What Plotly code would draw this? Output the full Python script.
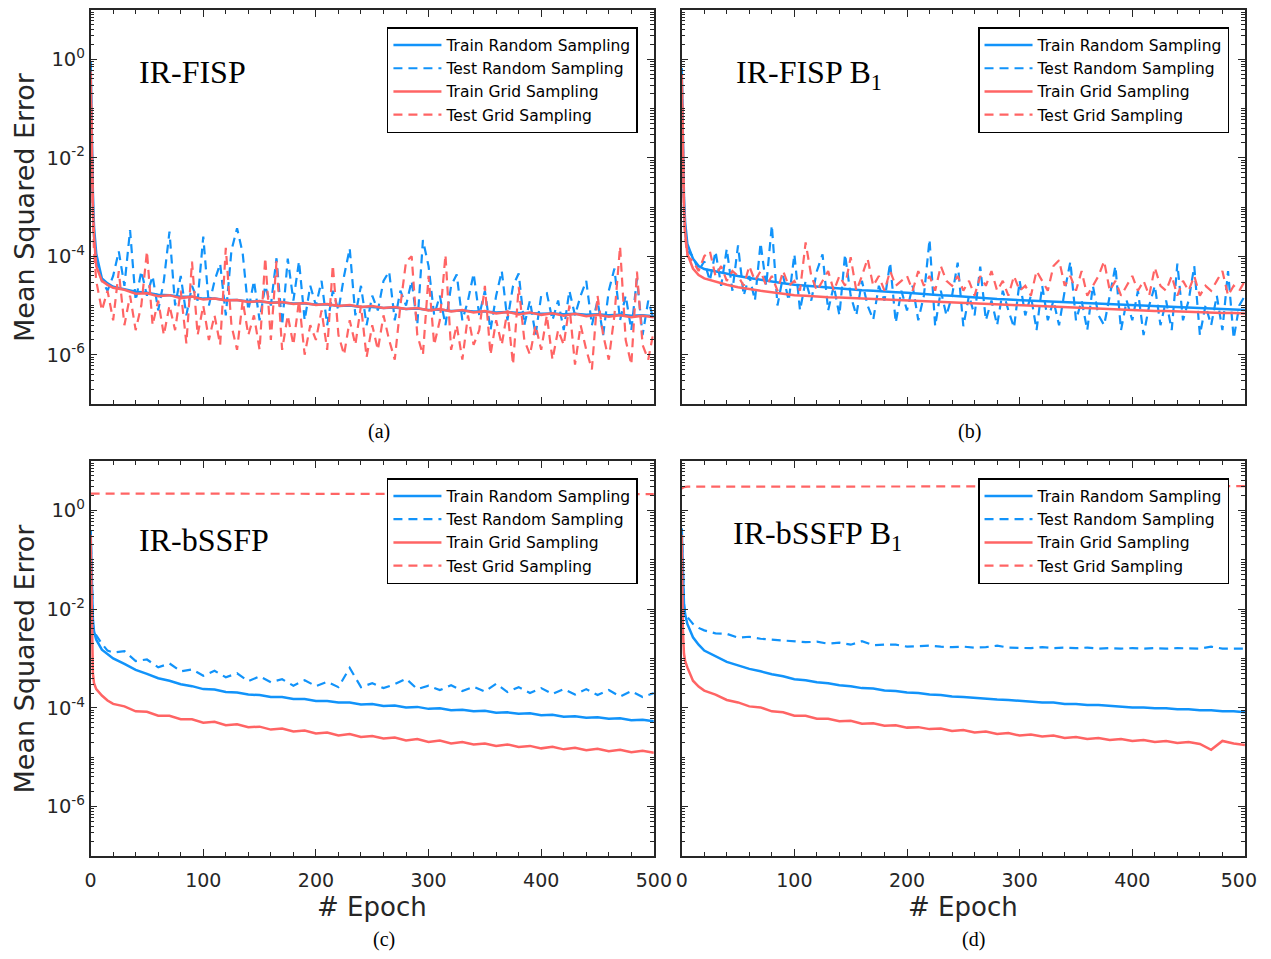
import plotly.graph_objects as go

# ---------------- x grids (epochs) ----------------
EP_F = [0, 1, 2, 3] + list(range(5, 505, 5))                 # 104 points (noisy test curves)
EP_C = [0, 1, 2, 3, 5, 10, 15, 20] + list(range(30, 510, 10))  # 56 points (smooth curves)
EP_FLAT = [0, 1, 2, 5, 10, 20, 50, 100, 150, 200, 250, 300, 350, 400, 450, 500]

SERIES_NAMES = ["Train Random Sampling", "Test Random Sampling",
                "Train Grid Sampling", "Test Grid Sampling"]
PANEL_TITLES = ["IR-FISP", "IR-FISP B<sub>1</sub>", "IR-bSSFP", "IR-bSSFP B<sub>1</sub>"]
PANEL_LABELS = ["(a)", "(b)", "(c)", "(d)"]
X_TICKS = [0, 100, 200, 300, 400, 500]
X_TICK_TEXT = ["0", "100", "200", "300", "400", "500"]
Y_LABELED = [-6, -4, -2, 0]
Y_UNLABELED = [-7, -5, -3, -1, 1]

# ---------------- values, as log10(MSE) ----------------
# (a) IR-FISP
A_TRAIN_RAND = [-0.05, -1.60, -2.70, -3.40, -3.95, -4.45, -4.55, -4.62,
                -4.67, -4.72, -4.74, -4.78, -4.79, -4.82, -4.82, -4.86,
                -4.86, -4.89, -4.89, -4.92, -4.92, -4.94, -4.94, -4.96,
                -4.96, -4.98, -4.98, -5.01, -5.00, -5.03, -5.03, -5.05,
                -5.04, -5.07, -5.06, -5.09, -5.08, -5.11, -5.10, -5.12,
                -5.12, -5.14, -5.13, -5.15, -5.15, -5.17, -5.16, -5.18,
                -5.17, -5.19, -5.18, -5.20, -5.19, -5.21, -5.20, -5.22]
A_TEST_RAND = [-0.10, -1.80, -3.00, -3.60,
               -4.10, -4.50, -4.70, -4.40, -3.90, -4.60, -3.47, -4.90, -4.30, -4.80,
               -4.40, -5.10, -4.50, -3.50, -5.00, -4.40, -5.20, -4.60, -4.90, -3.60,
               -5.00, -4.50, -4.15, -5.20, -3.88, -3.43, -3.94, -5.10, -4.50, -5.30,
               -4.60, -5.00, -4.04, -5.40, -4.05, -4.90, -4.10, -5.30, -4.60, -5.00,
               -4.50, -5.40, -4.70, -5.10, -4.40, -3.84, -5.20, -4.60, -5.40, -4.80,
               -5.10, -4.50, -4.31, -5.30, -4.70, -5.00, -4.50, -5.40, -3.67, -4.20,
               -5.20, -4.80, -5.40, -4.60, -4.37, -5.30, -4.90, -4.35, -5.20, -4.70,
               -5.50, -4.80, -4.30, -5.30, -4.60, -4.35, -5.40, -4.90, -5.60, -4.80,
               -4.75, -5.30, -4.90, -5.50, -4.70, -5.20, -4.80, -4.50, -5.40, -4.90,
               -5.60, -4.70, -4.25, -5.30, -4.80, -5.50, -4.45, -5.60, -4.90, -5.30]
A_TRAIN_GRID = [-0.25, -1.90, -3.00, -3.60, -4.20, -4.50, -4.58, -4.64,
                -4.68, -4.76, -4.75, -4.81, -4.79, -4.85, -4.82, -4.88,
                -4.86, -4.90, -4.89, -4.93, -4.91, -4.95, -4.93, -4.97,
                -4.95, -4.99, -4.97, -5.01, -4.99, -5.03, -5.01, -5.05,
                -5.03, -5.07, -5.05, -5.10, -5.07, -5.12, -5.09, -5.14,
                -5.11, -5.16, -5.13, -5.18, -5.14, -5.19, -5.16, -5.21,
                -5.17, -5.22, -5.19, -5.23, -5.20, -5.24, -5.21, -5.24]
A_TEST_GRID = [-0.30, -2.00, -3.20, -3.90,
               -4.50, -5.10, -4.70, -5.30, -4.30, -5.40, -4.80, -5.50, -5.00, -3.90,
               -5.40, -4.90, -5.60, -5.00, -5.50, -4.70, -5.77, -4.11, -5.60, -5.00,
               -5.70, -5.20, -5.80, -3.83, -5.40, -5.90, -4.90, -5.60, -5.20, -5.90,
               -4.03, -5.70, -4.10, -5.90, -5.20, -5.80, -4.90, -6.00, -5.40, -5.70,
               -5.10, -5.90, -4.18, -5.60, -6.00, -5.30, -5.80, -5.00, -6.05, -5.40,
               -5.90, -5.20, -5.70, -6.10, -5.00, -4.11, -4.00, -5.60, -6.00, -4.40,
               -5.80, -5.30, -3.97, -5.90, -5.40, -6.10, -5.20, -5.80, -5.50, -4.60,
               -6.00, -5.30, -5.80, -5.10, -6.20, -4.62, -5.70, -6.00, -5.40, -5.90,
               -5.20, -6.10, -5.50, -5.80, -5.00, -6.20, -5.40, -5.90, -6.30, -4.80,
               -5.60, -6.10, -5.20, -3.80, -5.70, -6.20, -4.31, -5.80, -6.10, -5.50]

# (b) IR-FISP B1
B_TRAIN_RAND = [-0.18, -1.80, -2.80, -3.30, -3.75, -4.05, -4.20, -4.26,
                -4.31, -4.36, -4.40, -4.44, -4.48, -4.51, -4.55, -4.58,
                -4.60, -4.62, -4.64, -4.66, -4.67, -4.69, -4.70, -4.72,
                -4.73, -4.74, -4.76, -4.77, -4.79, -4.80, -4.82, -4.84,
                -4.85, -4.87, -4.88, -4.89, -4.91, -4.92, -4.93, -4.94,
                -4.95, -4.96, -4.97, -4.98, -4.99, -5.00, -5.01, -5.02,
                -5.03, -5.03, -5.04, -5.05, -5.06, -5.07, -5.08, -5.09]
B_TEST_RAND = [-0.20, -1.90, -3.00, -3.50,
               -3.90, -4.00, -4.30, -4.10, -4.50, -3.90, -4.60, -3.85, -4.70, -3.78,
               -4.80, -4.40, -4.90, -3.73, -4.60, -3.37, -5.00, -4.40, -4.90, -3.96,
               -5.10, -4.50, -4.90, -4.30, -3.96, -5.10, -4.60, -5.20, -3.96, -4.80,
               -5.20, -4.50, -5.00, -5.29, -4.60, -4.90, -4.13, -5.35, -4.70, -5.10,
               -4.60, -5.30, -4.80, -3.66, -5.42, -4.70, -5.20, -4.80, -4.13, -5.42,
               -4.80, -5.20, -4.21, -5.30, -4.90, -5.40, -4.70, -5.10, -5.45, -4.50,
               -5.20, -4.80, -5.50, -4.60, -5.30, -4.90, -5.40, -4.70, -4.11, -5.30,
               -4.90, -5.50, -4.60, -5.20, -5.40, -4.80, -4.20, -5.50, -4.90, -5.30,
               -4.70, -5.60, -5.00, -4.60, -5.40, -4.90, -5.50, -4.15, -5.30, -4.90,
               -4.20, -5.60, -5.00, -5.40, -4.80, -5.50, -4.30, -5.67, -5.00, -4.80]
B_TRAIN_GRID = [-0.30, -2.00, -3.00, -3.50, -3.95, -4.25, -4.38, -4.45,
                -4.52, -4.58, -4.63, -4.67, -4.70, -4.73, -4.76, -4.79,
                -4.80, -4.82, -4.83, -4.84, -4.85, -4.86, -4.87, -4.88,
                -4.89, -4.89, -4.90, -4.91, -4.92, -4.93, -4.94, -4.95,
                -4.96, -4.97, -4.98, -4.99, -5.00, -5.01, -5.02, -5.03,
                -5.04, -5.05, -5.06, -5.07, -5.08, -5.09, -5.10, -5.11,
                -5.11, -5.12, -5.13, -5.13, -5.14, -5.15, -5.15, -5.16]
B_TEST_GRID = [-0.30, -2.00, -3.10, -3.60,
               -4.00, -4.10, -4.30, -4.00, -3.90, -4.40, -4.20, -4.50, -4.30, -4.40,
               -4.60, -4.20, -4.50, -4.30, -4.60, -4.40, -4.70, -4.30, -4.60, -4.50,
               -4.70, -3.72, -4.40, -4.70, -4.50, -4.30, -4.70, -4.40, -4.60, -4.02,
               -4.70, -4.40, -4.05, -4.60, -4.40, -4.70, -4.30, -4.60, -4.50, -4.40,
               -4.70, -4.30, -4.60, -4.40, -4.70, -4.20, -4.50, -4.60, -4.40, -4.70,
               -4.50, -4.80, -4.40, -4.60, -4.30, -4.70, -4.50, -4.80, -4.40, -4.70,
               -4.60, -4.80, -4.30, -4.50, -4.70, -4.20, -4.08, -4.60, -4.40, -4.70,
               -4.30, -4.80, -4.60, -4.40, -4.10, -4.70, -4.50, -4.80, -4.60, -4.40,
               -4.70, -4.50, -4.80, -4.23, -4.60, -4.70, -4.40, -4.80, -4.50, -4.70,
               -4.40, -4.80, -4.60, -4.70, -4.50, -4.30, -4.80, -4.60, -4.70, -4.50]

# (c) IR-bSSFP
C_TRAIN_RAND = [-0.40, -1.50, -2.20, -2.45, -2.62, -2.82, -2.92, -3.00,
                -3.11, -3.23, -3.31, -3.40, -3.45, -3.52, -3.56, -3.62,
                -3.63, -3.68, -3.69, -3.73, -3.74, -3.78, -3.78, -3.82,
                -3.82, -3.86, -3.86, -3.89, -3.89, -3.93, -3.92, -3.96,
                -3.95, -3.99, -3.98, -4.02, -4.01, -4.05, -4.04, -4.07,
                -4.06, -4.10, -4.09, -4.12, -4.11, -4.15, -4.14, -4.18,
                -4.17, -4.20, -4.19, -4.22, -4.21, -4.25, -4.24, -4.27]
C_TEST_RAND = [-0.40, -1.60, -2.30, -2.50, -2.53, -2.70, -2.84, -2.88,
               -2.85, -3.05, -3.02, -3.18, -3.10, -3.26, -3.22, -3.35,
               -3.25, -3.38, -3.30, -3.46, -3.36, -3.48, -3.42, -3.55,
               -3.44, -3.56, -3.47, -3.58, -3.19, -3.58, -3.50, -3.60,
               -3.52, -3.41, -3.62, -3.55, -3.64, -3.54, -3.66, -3.57,
               -3.67, -3.51, -3.68, -3.58, -3.70, -3.60, -3.72, -3.62,
               -3.73, -3.62, -3.74, -3.64, -3.77, -3.66, -3.78, -3.70]
C_TRAIN_GRID = [-0.50, -2.20, -3.30, -3.50, -3.62, -3.75, -3.85, -3.92,
                -3.97, -4.07, -4.08, -4.16, -4.16, -4.23, -4.23, -4.30,
                -4.28, -4.35, -4.33, -4.39, -4.38, -4.44, -4.42, -4.48,
                -4.46, -4.52, -4.50, -4.56, -4.53, -4.59, -4.57, -4.62,
                -4.60, -4.66, -4.63, -4.69, -4.66, -4.72, -4.69, -4.74,
                -4.72, -4.77, -4.74, -4.79, -4.77, -4.82, -4.79, -4.84,
                -4.81, -4.86, -4.83, -4.88, -4.85, -4.90, -4.87, -4.91]
C_TEST_GRID = [0.34, 0.34, 0.34, 0.34, 0.34, 0.34, 0.34, 0.34,
               0.34, 0.34, 0.34, 0.34, 0.34, 0.33, 0.33, 0.33]

# (d) IR-bSSFP B1
D_TRAIN_RAND = [-0.37, -1.40, -1.90, -2.10, -2.30, -2.57, -2.72, -2.84,
                -2.96, -3.07, -3.14, -3.21, -3.26, -3.32, -3.36, -3.42,
                -3.44, -3.48, -3.50, -3.54, -3.56, -3.60, -3.61, -3.65,
                -3.66, -3.69, -3.70, -3.73, -3.74, -3.77, -3.78, -3.80,
                -3.81, -3.83, -3.84, -3.86, -3.87, -3.89, -3.89, -3.92,
                -3.92, -3.94, -3.94, -3.96, -3.97, -3.99, -3.99, -4.01,
                -4.01, -4.03, -4.03, -4.05, -4.05, -4.07, -4.07, -4.09]
D_TEST_RAND = [-0.37, -1.40, -1.90, -2.10, -2.16, -2.30, -2.38, -2.43,
               -2.49, -2.50, -2.58, -2.56, -2.60, -2.62, -2.63, -2.66,
               -2.67, -2.66, -2.70, -2.68, -2.72, -2.65, -2.73, -2.72,
               -2.72, -2.76, -2.75, -2.74, -2.76, -2.77, -2.76, -2.78,
               -2.77, -2.74, -2.78, -2.78, -2.79, -2.77, -2.79, -2.78,
               -2.79, -2.78, -2.80, -2.79, -2.80, -2.79, -2.80, -2.79,
               -2.80, -2.79, -2.80, -2.80, -2.76, -2.80, -2.80, -2.80]
D_TRAIN_GRID = [-0.50, -2.40, -2.90, -3.05, -3.18, -3.45, -3.57, -3.65,
                -3.73, -3.84, -3.89, -3.97, -3.99, -4.07, -4.09, -4.16,
                -4.16, -4.22, -4.22, -4.27, -4.26, -4.32, -4.31, -4.36,
                -4.35, -4.40, -4.39, -4.43, -4.42, -4.47, -4.45, -4.50,
                -4.48, -4.53, -4.51, -4.56, -4.54, -4.58, -4.56, -4.61,
                -4.59, -4.63, -4.61, -4.65, -4.63, -4.67, -4.65, -4.69,
                -4.67, -4.71, -4.69, -4.73, -4.85, -4.67, -4.72, -4.75]
D_TEST_GRID = [0.44, 0.46, 0.47, 0.48, 0.48, 0.48, 0.49, 0.49,
               0.49, 0.49, 0.49, 0.49, 0.49, 0.49, 0.49, 0.49]

PANELS = [
    [(EP_C, A_TRAIN_RAND), (EP_F, A_TEST_RAND), (EP_C, A_TRAIN_GRID), (EP_F, A_TEST_GRID)],
    [(EP_C, B_TRAIN_RAND), (EP_F, B_TEST_RAND), (EP_C, B_TRAIN_GRID), (EP_F, B_TEST_GRID)],
    [(EP_C, C_TRAIN_RAND), (EP_C, C_TEST_RAND), (EP_C, C_TRAIN_GRID), (EP_FLAT, C_TEST_GRID)],
    [(EP_C, D_TRAIN_RAND), (EP_C, D_TEST_RAND), (EP_C, D_TRAIN_GRID), (EP_FLAT, D_TEST_GRID)],
]

# ---------------- styling ----------------
# Page placement calibration (body margin and capture scaling observed in test renders).
# Height is kept so the page does not scroll vertically.
OFF_Y = 8
SX, CX = 0.9814, 13.0
W, H = 1282, 943
BLUE = "#1193FA"
RED = "#FF6464"
AXC = "#262626"
DASH = "9px,6px"
STYLES = [(BLUE, "solid", 2.5), (BLUE, DASH, 2.2), (RED, "solid", 2.5), (RED, DASH, 2.2)]
SANS = "DejaVu Sans"
SERIF = "Liberation Serif"
NBSP = "\u00a0"


def px_x(v):
    return ((v - CX) / SX) / W


def px_y(v):
    return 1 - (v - OFF_Y) / H


# target layout in screen pixels: axes boxes (left, right, top, bottom)
BOXES = [(90, 656, 10, 404), (684, 1250, 10, 404), (90, 656, 461, 856), (684, 1250, 461, 856)]
TITLE_POS = [(137, 72), (737, 75), (137, 540), (734, 535)]
LABEL_POS = [(380, 431), (973, 431), (385, 939), (977, 939)]
LEGEND_POS = [(640, 27), (1234, 27), (640, 478), (1234, 478)]

fig = go.Figure()

for i, panel in enumerate(PANELS):
    sfx = "" if i == 0 else str(i + 1)
    leg = "legend" if i == 0 else "legend" + str(i + 1)
    for j, (xs, logs) in enumerate(panel):
        col, dash, lw = STYLES[j]
        fig.add_trace(go.Scatter(
            x=xs, y=[10 ** v for v in logs], mode="lines",
            name=SERIES_NAMES[j],
            line=dict(color=col, width=lw, dash=dash),
            xaxis="x" + sfx, yaxis="y" + sfx, legend=leg,
        ))

minor_y = [k * 10 ** d for d in range(-7, 1) for k in range(2, 10)] + [10 ** d for d in Y_UNLABELED]
ytext = ["10<sup>%d</sup>" % d for d in Y_LABELED]

layout = dict(
    width=W, height=H, margin=dict(l=0, r=0, t=0, b=0),
    paper_bgcolor="white", plot_bgcolor="white",
    showlegend=True, annotations=[],
)

for i, (l, r, t, b) in enumerate(BOXES):
    sfx = "" if i == 0 else str(i + 1)
    bottom_row = i >= 2
    left_col = i % 2 == 0
    xtext = list(X_TICK_TEXT)
    if i == 3:
        # keep the last label of the right-hand panel clear of the page edge
        xtext[-1] = xtext[-1] + NBSP + NBSP
    layout["xaxis" + sfx] = dict(
        domain=[px_x(l), px_x(r)], range=[0, 500], anchor="y" + sfx,
        tickmode="array", tickvals=X_TICKS, ticktext=xtext, showticklabels=bottom_row,
        ticks="inside", ticklen=7, tickwidth=1, tickcolor=AXC,
        minor=dict(dtick=20, ticks="inside", ticklen=4, tickwidth=1, tickcolor=AXC),
        showline=True, linecolor=AXC, linewidth=1.5, mirror="ticks",
        showgrid=False, zeroline=False, ticklabelstandoff=6,
        tickfont=dict(family=SANS, size=19, color=AXC),
    )
    layout["yaxis" + sfx] = dict(
        domain=[px_y(b), px_y(t)], type="log", range=[-7, 1], anchor="x" + sfx,
        tickmode="array", tickvals=[10 ** d for d in Y_LABELED], ticktext=ytext,
        showticklabels=left_col,
        ticks="inside", ticklen=7, tickwidth=1, tickcolor=AXC,
        minor=dict(tickvals=minor_y, ticks="inside", ticklen=4, tickwidth=1, tickcolor=AXC),
        showline=True, linecolor=AXC, linewidth=1.5, mirror="ticks",
        showgrid=False, zeroline=False,
        tickfont=dict(family=SANS, size=19.5, color=AXC),
    )
    leg = "legend" if i == 0 else "legend" + str(i + 1)
    lx, ly = LEGEND_POS[i]
    layout[leg] = dict(
        x=px_x(lx), y=px_y(ly), xanchor="right", yanchor="top",
        xref="paper", yref="paper",
        bgcolor="white", bordercolor="black", borderwidth=1.5,
        font=dict(family=SANS, size=15.5, color="black"),
        tracegroupgap=0, itemwidth=48,
    )
    tx, ty = TITLE_POS[i]
    layout["annotations"].append(dict(
        text=PANEL_TITLES[i], x=px_x(tx), y=px_y(ty),
        xref="paper", yref="paper", xanchor="left", yanchor="middle", showarrow=False,
        font=dict(family=SERIF, size=32, color="black"),
    ))
    cx, cy = LABEL_POS[i]
    layout["annotations"].append(dict(
        text=PANEL_LABELS[i], x=px_x(cx), y=px_y(cy),
        xref="paper", yref="paper", xanchor="center", yanchor="middle", showarrow=False,
        font=dict(family=SERIF, size=20, color="black"),
    ))
    if left_col:
        layout["annotations"].append(dict(
            text="Mean Squared Error", x=px_x(24), y=px_y((t + b) / 2),
            xref="paper", yref="paper", xanchor="center", yanchor="middle",
            textangle=-90, showarrow=False,
            font=dict(family=SANS, size=27, color=AXC),
        ))
    if bottom_row:
        layout["annotations"].append(dict(
            text="# Epoch", x=px_x((l + r) / 2), y=px_y(907),
            xref="paper", yref="paper", xanchor="center", yanchor="middle",
            showarrow=False, font=dict(family=SANS, size=26, color=AXC),
        ))

fig.update_layout(**layout)
fig.write_html("out.html")
